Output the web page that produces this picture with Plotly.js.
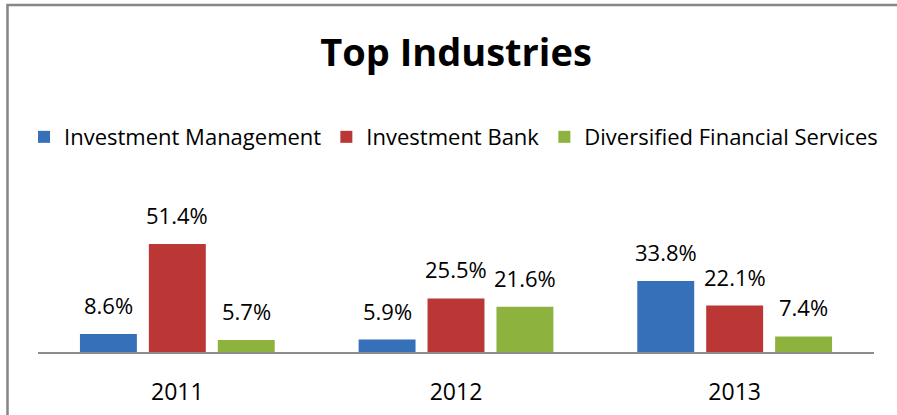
<!DOCTYPE html>
<html>
<head>
<meta charset="utf-8">
<script src="https://cdn.plot.ly/plotly-3.0.1.min.js"></script>
<style>html,body{margin:0;padding:0;background:#fff;}#chart{width:897px;height:415px;}</style>
</head>
<body>
<div id="chart"></div>
<script>
const categories = ['2011', '2012', '2013'];
const seriesNames = ['Investment Management', 'Investment Bank', 'Diversified Financial Services'];
const investmentManagement = [8.6, 5.9, 33.8];
const investmentBank = [51.4, 25.5, 22.1];
const diversifiedFinancial = [5.7, 21.6, 7.4];
const seriesValues = [investmentManagement, investmentBank, diversifiedFinancial];
const seriesColors = ['#3670B8', '#BA3735', '#8DB33E'];

const FONT = '"Open Sans", Lato, sans-serif';
const barSlotPx = 69;

const traces = seriesValues.map((vals, i) => ({
  type: 'bar',
  name: seriesNames[i],
  x: categories,
  y: vals,
  marker: {color: seriesColors[i]},
  hoverinfo: 'skip'
}));

const annotations = [];
seriesValues.forEach((vals, i) => {
  vals.forEach((v, j) => {
    annotations.push({
      x: j, y: v, xref: 'x', yref: 'y',
      text: v.toFixed(1) + '%', showarrow: false,
      xanchor: 'center', yanchor: 'bottom',
      xshift: (i - 1) * barSlotPx, yshift: 12,
      font: {family: FONT, size: 22, color: '#000'}
    });
  });
});

const layout = {
  width: 897, height: 415,
  margin: {l: 38, r: 23, t: 226, b: 63},
  paper_bgcolor: '#fff', plot_bgcolor: '#fff',
  barmode: 'group', bargap: 0.258, bargroupgap: 0.174,
  title: {text: '<b>Top Industries</b>', x: 0.5, xref: 'paper', y: 1 - 53/415, yanchor: 'middle',
          font: {family: FONT, size: 38, color: '#000'}},
  showlegend: true,
  legend: {orientation: 'h', x: -0.0167, xanchor: 'left', y: 1.706, yanchor: 'middle',
           font: {family: FONT, size: 22, color: '#000'}, bgcolor: 'rgba(0,0,0,0)'},
  xaxis: {type: 'category', showline: true, linecolor: '#8c8c8c', linewidth: 2,
          ticks: 'outside', ticklen: 18, tickcolor: 'rgba(0,0,0,0)',
          tickfont: {family: FONT, size: 23, color: '#000'},
          showgrid: false, zeroline: false},
  yaxis: {range: [0, 60], visible: false, showgrid: false, zeroline: false},
  annotations: annotations,
  shapes: [{type: 'path', xref: 'paper', yref: 'paper',
            path: 'M -0.0365,-1 L -0.0365,2.754 L 1.2,2.754',
            line: {color: '#868686', width: 2.5}}]
};

Plotly.newPlot('chart', traces, layout, {displayModeBar: false});
</script>
</body>
</html>
